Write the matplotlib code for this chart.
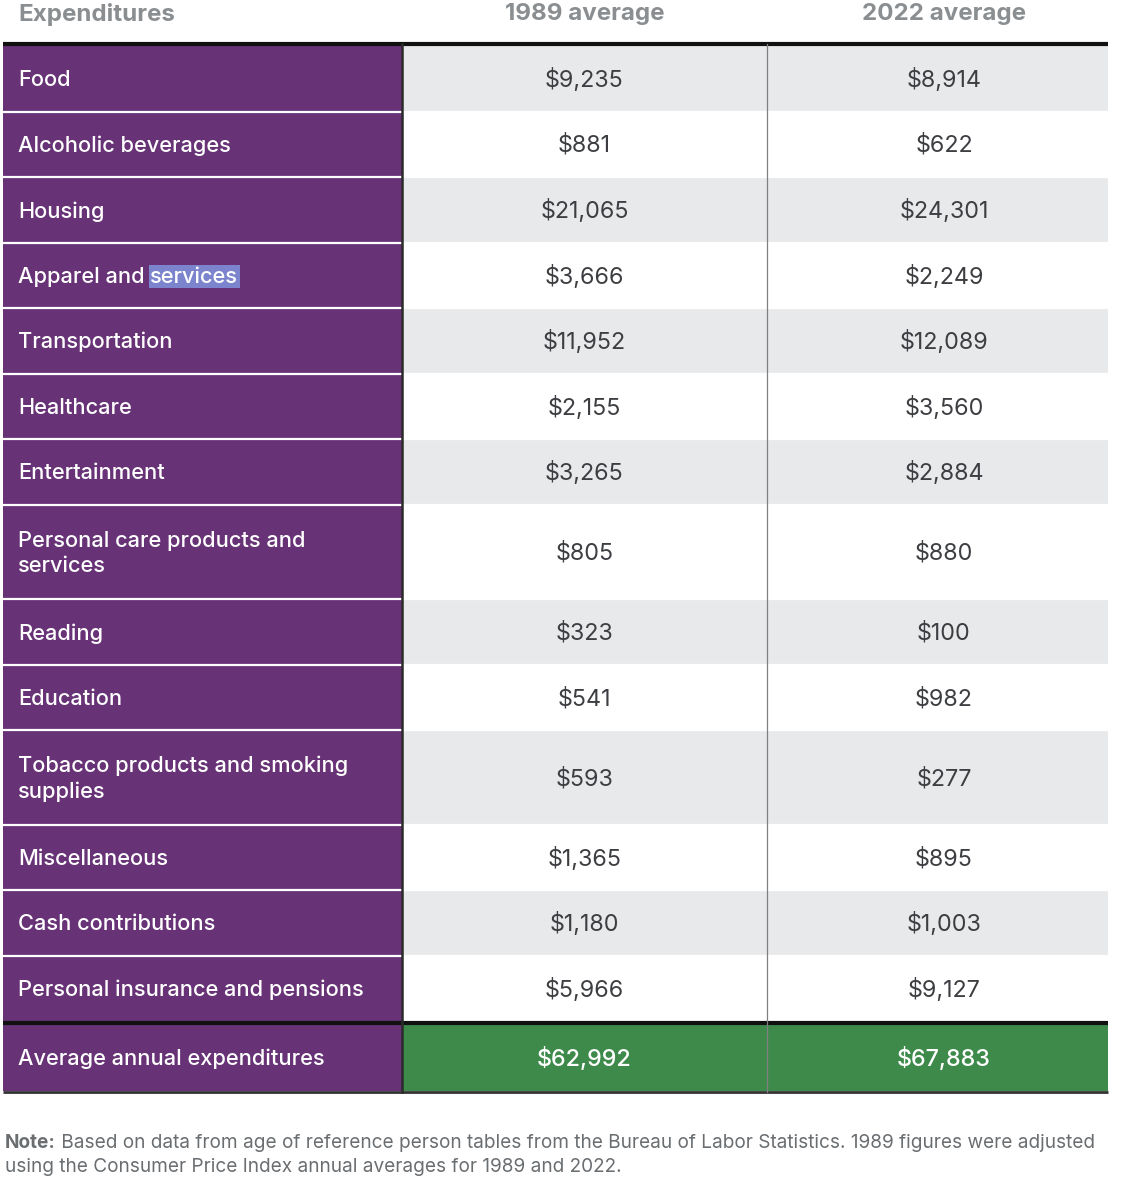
import matplotlib.pyplot as plt
from matplotlib.patches import Rectangle

plt.rcParams['font.family'] = ['Inter', 'DejaVu Sans']

# table data
header = ['Expenditures', '1989 average', '2022 average']
categories = ['Food', 'Alcoholic beverages', 'Housing', 'Apparel and services',
              'Transportation', 'Healthcare', 'Entertainment',
              'Personal care products and\nservices', 'Reading', 'Education',
              'Tobacco products and smoking\nsupplies', 'Miscellaneous',
              'Cash contributions', 'Personal insurance and pensions']
avg_1989 = [9235, 881, 21065, 3666, 11952, 2155, 3265, 805, 323, 541, 593, 1365, 1180, 5966]
avg_2022 = [8914, 622, 24301, 2249, 12089, 3560, 2884, 880, 100, 982, 277, 895, 1003, 9127]
total_label = 'Average annual expenditures'
total_1989 = 62992
total_2022 = 67883
note_bold = 'Note:'
note_lines = [' Based on data from age of reference person tables from the Bureau of Labor Statistics. 1989 figures were adjusted',
              'using the Consumer Price Index annual averages for 1989 and 2022.']

PURPLE = '#673276'
GREEN = '#3d8a4b'
GREY_ROW = '#e8e9ea'
VAL_COL = '#3c3e41'
HEAD_COL = '#8a8e90'
NOTE_COL = '#6a6e71'

fig = plt.figure(figsize=(11.48, 12), dpi=100)
ax = fig.add_axes([0, 0, 1, 1])
ax.set_xlim(0, 1148)
ax.set_ylim(1200, 0)
ax.axis('off')

x0, x1, x2, x3 = 3, 402, 767, 1108
c2, c3 = (x1 + x2) / 2, 944
fs = 15.7
fv = 16.8

def money(v):
    return '${:,}'.format(v)

# header
ax.text(18, 14, header[0], ha='left', va='center', fontsize=17.4, fontweight='bold', color=HEAD_COL)
ax.text(c2, 14, header[1], ha='center', va='center', fontsize=17.4, fontweight='bold', color=HEAD_COL)
ax.text(c3, 14, header[2], ha='center', va='center', fontsize=17.4, fontweight='bold', color=HEAD_COL)

y = 46
for i, (cat, a, b) in enumerate(zip(categories, avg_1989, avg_2022)):
    h = 94.5 if '\n' in cat else 65.5
    bg = GREY_ROW if i % 2 == 0 else 'white'
    ax.add_patch(Rectangle((x0, y), x1 - x0, h, facecolor=PURPLE, edgecolor='none'))
    ax.add_patch(Rectangle((x1, y), x3 - x1, h, facecolor=bg, edgecolor='none'))
    yc = y + h / 2 + 1.5
    if cat == 'Apparel and services':
        t = ax.text(18, yc, 'Apparel and ', ha='left', va='center', fontsize=fs, fontweight=500, color='white')
        ax.annotate('services', xy=(1, 0), xycoords=t, ha='left', va='bottom', fontsize=fs, fontweight=500,
                    color='white', bbox=dict(boxstyle='square,pad=0.08', facecolor='#7b84cc', edgecolor='none'))
    else:
        ax.text(18, yc, cat, ha='left', va='center', fontsize=fs, fontweight=500, color='white', linespacing=1.3)
    ax.text(c2, yc, money(a), ha='center', va='center', fontsize=fv, color=VAL_COL)
    ax.text(c3, yc, money(b), ha='center', va='center', fontsize=fv, color=VAL_COL)
    if i < len(categories) - 1:
        ax.plot([x0, x3], [y + h, y + h], color='white', lw=1.6, solid_capstyle='butt')
    y += h

# total row
y_tot = y + 4
ax.add_patch(Rectangle((x0, y_tot), x1 - x0, 66, facecolor=PURPLE, edgecolor='none'))
ax.add_patch(Rectangle((x1, y_tot), x3 - x1, 66, facecolor=GREEN, edgecolor='none'))
ax.text(18, y_tot + 34, total_label, ha='left', va='center', fontsize=fs, fontweight=500, color='white')
ax.text(c2, y_tot + 34, money(total_1989), ha='center', va='center', fontsize=fv, fontweight=500, color='white')
ax.text(c3, y_tot + 34, money(total_2022), ha='center', va='center', fontsize=fv, fontweight=500, color='white')

# rules
ax.plot([x0, x3], [44, 44], color='#111111', lw=3, solid_capstyle='butt')
ax.plot([x0, x3], [y + 2, y + 2], color='#111111', lw=3, solid_capstyle='butt')
ax.plot([x0, x3], [y_tot + 67, y_tot + 67], color='#333333', lw=2, solid_capstyle='butt')
ax.plot([x1, x1], [44, y_tot + 67], color='#2b2b2b', lw=1.8)
ax.plot([x2, x2], [44, y_tot + 67], color='#808080', lw=0.9)

# note
t = ax.text(5, 1143, note_bold, ha='left', va='center', fontsize=13.7, fontweight='bold', color=NOTE_COL)
ax.annotate(note_lines[0], xy=(1, 0), xycoords=t, ha='left', va='bottom', fontsize=13.7, color=NOTE_COL)
ax.text(5, 1167, note_lines[1], ha='left', va='center', fontsize=13.7, color=NOTE_COL)

fig.savefig('out.png', dpi=100)
